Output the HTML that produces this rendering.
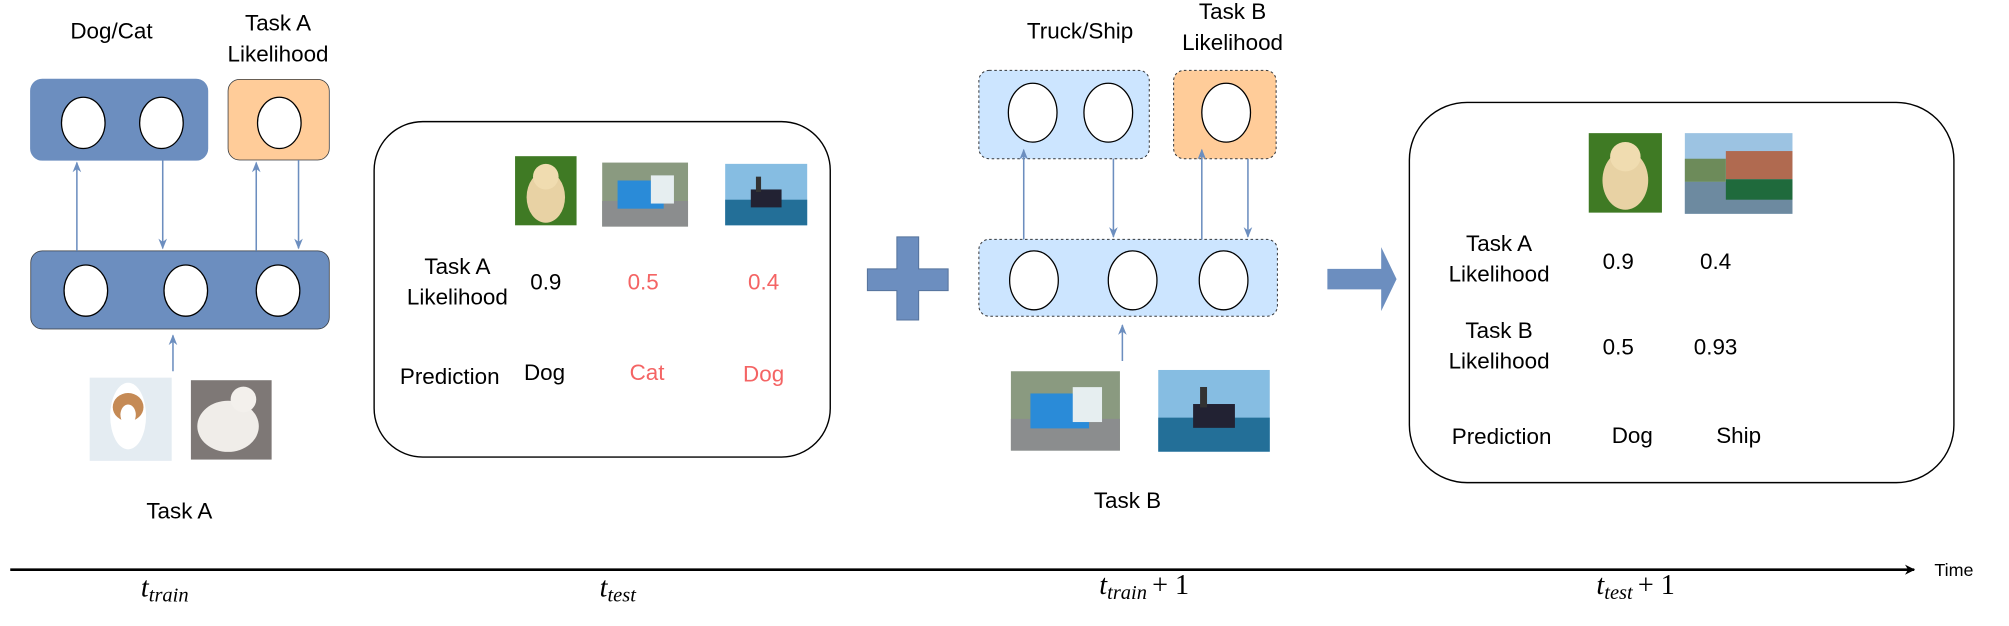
<!DOCTYPE html>
<html><head><meta charset="utf-8"><style>
html,body{margin:0;padding:0;background:#fff;}
svg{display:block;}
text{font-family:"Liberation Sans",sans-serif;font-size:17.5px;fill:#000;}
.r{fill:#f46464;}
.m{font-family:"Liberation Serif",serif;font-style:italic;}
</style></head><body>
<svg width="2009" height="626" viewBox="0 0 1568 489" preserveAspectRatio="none" xmlns="http://www.w3.org/2000/svg">
<defs>
<marker id="a" viewBox="0 0 10 10" refX="9" refY="5" markerWidth="7" markerHeight="7" orient="auto"><path d="M0,1 L10,5 L0,9 L3,5z" fill="#6c8ebf"/></marker>
<marker id="k" viewBox="0 0 10 10" refX="9" refY="5" markerWidth="4" markerHeight="4" orient="auto"><path d="M0,0 L10,5 L0,10 L3,5z" fill="#000"/></marker>
<g id="dog"><rect width="48" height="54" fill="#3f7a24"/><ellipse cx="24" cy="32" rx="15" ry="20" fill="#e8d2a4"/><ellipse cx="24" cy="16" rx="10" ry="10" fill="#f0dcb0"/></g>
<g id="truck"><rect width="67" height="50" fill="#8a9a80"/><rect y="30" width="67" height="20" fill="#8b8d8e"/><rect x="12" y="14" width="36" height="22" fill="#2a8bd8"/><rect x="38" y="10" width="18" height="22" fill="#e6eef0"/></g>
<g id="ship"><rect width="64" height="48" fill="#86bde2"/><rect y="28" width="64" height="20" fill="#236f98"/><rect x="20" y="20" width="24" height="14" fill="#223"/><rect x="24" y="10" width="4" height="12" fill="#333"/></g>
</defs>

<text x="87" y="30" text-anchor="middle">Dog/Cat</text>
<text x="217" y="24" text-anchor="middle">Task A</text>
<text x="217" y="48" text-anchor="middle">Likelihood</text>
<rect x="24" y="62" width="138" height="63" rx="9" fill="#6c8ebf" stroke="#6c8ebf"/>
<rect x="178" y="62" width="79" height="63" rx="9" fill="#ffcc99" stroke="#36393d" stroke-width="0.6"/>
<ellipse cx="65" cy="96" rx="17" ry="20" fill="#fff" stroke="#000"/>
<ellipse cx="126" cy="96" rx="17" ry="20" fill="#fff" stroke="#000"/>
<ellipse cx="218" cy="96" rx="17" ry="20" fill="#fff" stroke="#000"/>
<rect x="24" y="196" width="233" height="61" rx="9" fill="#6c8ebf" stroke="#36393d" stroke-width="0.6"/>
<ellipse cx="67" cy="227" rx="17" ry="20" fill="#fff" stroke="#000"/>
<ellipse cx="145" cy="227" rx="17" ry="20" fill="#fff" stroke="#000"/>
<ellipse cx="217" cy="227" rx="17" ry="20" fill="#fff" stroke="#000"/>
<g stroke="#6c8ebf" stroke-width="1.2" marker-end="url(#a)">
<line x1="60" y1="196" x2="60" y2="127"/>
<line x1="127" y1="125" x2="127" y2="194"/>
<line x1="200" y1="196" x2="200" y2="127"/>
<line x1="233" y1="125" x2="233" y2="194"/>
<line x1="135" y1="290" x2="135" y2="262"/>
</g>
<rect x="70" y="295" width="64" height="65" fill="#e4ecf2"/>
<ellipse cx="100" cy="325" rx="14" ry="26" fill="#fff"/><ellipse cx="100" cy="318" rx="12" ry="11" fill="#c58a55"/><ellipse cx="100" cy="324" rx="6" ry="8" fill="#fff"/>
<rect x="149" y="297" width="63" height="62" fill="#7e7876"/>
<ellipse cx="178" cy="333" rx="24" ry="20" fill="#f0ede9"/><ellipse cx="190" cy="312" rx="10" ry="10" fill="#f3f0ec"/>
<text x="140" y="405" text-anchor="middle">Task A</text>

<rect x="292" y="95" width="356" height="262" rx="38" fill="#fff" stroke="#000" stroke-width="1.1"/>
<use href="#dog" x="402" y="122"/>
<use href="#truck" x="470" y="127"/>
<use href="#ship" x="566" y="128"/>
<text x="357" y="214" text-anchor="middle">Task A</text>
<text x="357" y="238" text-anchor="middle">Likelihood</text>
<text x="426" y="226" text-anchor="middle">0.9</text>
<text class="r" x="502" y="226" text-anchor="middle">0.5</text>
<text class="r" x="596" y="226" text-anchor="middle">0.4</text>
<text x="351" y="300" text-anchor="middle">Prediction</text>
<text x="425" y="297" text-anchor="middle">Dog</text>
<text class="r" x="505" y="297" text-anchor="middle">Cat</text>
<text class="r" x="596" y="298" text-anchor="middle">Dog</text>

<path d="M700,185 h17 v25 h23 v17 h-23 v23 h-17 v-23 h-23 v-17 h23z" fill="#6c8ebf" stroke="#56739c" stroke-width="0.8"/>

<text x="843" y="30" text-anchor="middle">Truck/Ship</text>
<text x="962" y="15" text-anchor="middle">Task B</text>
<text x="962" y="39" text-anchor="middle">Likelihood</text>
<rect x="764" y="55" width="133" height="69" rx="8" fill="#cce5ff" stroke="#36393d" stroke-width="0.8" stroke-dasharray="2,2"/>
<rect x="916" y="55" width="80" height="69" rx="8" fill="#ffcc99" stroke="#36393d" stroke-width="0.8" stroke-dasharray="2,2"/>
<ellipse cx="806" cy="88" rx="19" ry="23" fill="#fff" stroke="#000"/>
<ellipse cx="865" cy="88" rx="19" ry="23" fill="#fff" stroke="#000"/>
<ellipse cx="957" cy="88" rx="19" ry="23" fill="#fff" stroke="#000"/>
<rect x="764" y="187" width="233" height="60" rx="8" fill="#cce5ff" stroke="#36393d" stroke-width="0.8" stroke-dasharray="2,2"/>
<ellipse cx="807" cy="219" rx="19" ry="23" fill="#fff" stroke="#000"/>
<ellipse cx="884" cy="219" rx="19" ry="23" fill="#fff" stroke="#000"/>
<ellipse cx="955" cy="219" rx="19" ry="23" fill="#fff" stroke="#000"/>
<g stroke="#6c8ebf" stroke-width="1.2" marker-end="url(#a)">
<line x1="799" y1="187" x2="799" y2="117"/>
<line x1="869" y1="124" x2="869" y2="185"/>
<line x1="938" y1="187" x2="938" y2="117"/>
<line x1="974" y1="124" x2="974" y2="185"/>
<line x1="876" y1="282" x2="876" y2="254"/>
</g>
<use href="#truck" transform="translate(789,290) scale(1.27,1.24)"/>
<use href="#ship" transform="translate(904,289) scale(1.36,1.33)"/>
<text x="880" y="397" text-anchor="middle">Task B</text>

<path d="M1036,210 h42 v-17 l12,25 l-12,25 v-17 h-42z" fill="#6c8ebf"/>

<rect x="1100" y="80" width="425" height="297" rx="45" fill="#fff" stroke="#000" stroke-width="1.1"/>
<use href="#dog" transform="translate(1240,104) scale(1.19,1.15)"/>
<g transform="translate(1315,104)"><rect width="84" height="63" fill="#9cc3e2"/><rect y="38" width="84" height="25" fill="#6d8aa0"/><rect x="32" y="14" width="52" height="22" fill="#b06a50"/><rect x="32" y="36" width="52" height="16" fill="#1f6a3c"/><rect x="0" y="20" width="32" height="18" fill="#6d8b5a"/></g>
<text x="1170" y="196" text-anchor="middle">Task A</text>
<text x="1170" y="220" text-anchor="middle">Likelihood</text>
<text x="1263" y="210" text-anchor="middle">0.9</text>
<text x="1339" y="210" text-anchor="middle">0.4</text>
<text x="1170" y="264" text-anchor="middle">Task B</text>
<text x="1170" y="288" text-anchor="middle">Likelihood</text>
<text x="1263" y="277" text-anchor="middle">0.5</text>
<text x="1339" y="277" text-anchor="middle">0.93</text>
<text x="1172" y="347" text-anchor="middle">Prediction</text>
<text x="1274" y="346" text-anchor="middle">Dog</text>
<text x="1357" y="346" text-anchor="middle">Ship</text>

<line x1="8" y1="445" x2="1494" y2="445" stroke="#000" stroke-width="2" marker-end="url(#k)"/>
<text x="1525" y="450" text-anchor="middle" style="font-size:14px">Time</text>
<text class="m" x="110" y="466" style="font-size:22px">t<tspan dy="4" style="font-size:16px">train</tspan></text>
<text class="m" x="468" y="466" style="font-size:22px">t<tspan dy="4" style="font-size:16px">test</tspan></text>
<text class="m" x="858" y="464" style="font-size:22px">t<tspan dy="4" style="font-size:16px">train</tspan><tspan dy="-4" style="font-style:normal" dx="4">+ 1</tspan></text>
<text class="m" x="1246" y="464" style="font-size:22px">t<tspan dy="4" style="font-size:16px">test</tspan><tspan dy="-4" style="font-style:normal" dx="4">+ 1</tspan></text>
</svg>
</body></html>
